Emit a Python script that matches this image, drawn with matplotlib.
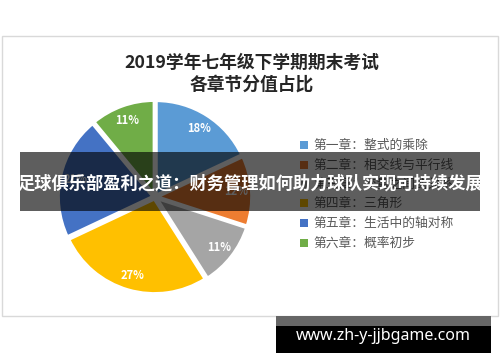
import matplotlib
matplotlib.use('Agg')
import matplotlib.pyplot as plt
from matplotlib.patches import Rectangle

plt.rcParams['font.family'] = ['Noto Sans CJK SC', 'DejaVu Sans']

# 数据
chapters = ['第一章：整式的乘除', '第二章：相交线与平行线', '第三章：变量之间的关系',
            '第四章：三角形', '第五章：生活中的轴对称', '第六章：概率初步']
shares = [18, 12, 11, 27, 21, 11]
colors = ['#5B9BD5', '#ED7D31', '#A5A5A5', '#FFC000', '#4472C4', '#70AD47']
title_lines = ['2019学年七年级下学期期末考试', '各章节分值占比']
banner_text = '足球俱乐部盈利之道：财务管理如何助力球队实现可持续发展'
watermark = 'www.zh-y-jjbgame.com'

W, H = 500, 362
fig = plt.figure(figsize=(W / 100, H / 100), dpi=100)


def fx(px):
    return px / W


def fy(py):
    return 1 - py / H


# 图表外框
fig.patches.append(Rectangle((fx(2), fy(316)), fx(496), 280 / H, transform=fig.transFigure,
                             facecolor='none', edgecolor='#d9d9d9', linewidth=1, zorder=-1))

# 标题
fig.text(fx(252), fy(63), title_lines[0], ha='center', va='center',
         fontsize=12.8, fontweight='bold', color='#262626')
fig.text(fx(252), fy(85), title_lines[1], ha='center', va='center',
         fontsize=12.8, fontweight='bold', color='#262626')

# 饼图
cx, cy, r = 155, 197, 95
ax = fig.add_axes([fx(cx - r), fy(cy + r), 2 * r / W, 2 * r / H])
wedges, _, autotexts = ax.pie(shares, colors=colors, startangle=90, counterclock=False,
                              autopct='%d%%', pctdistance=0.84, explode=[0.02] * 6,
                              wedgeprops=dict(edgecolor='white', linewidth=2.5),
                              textprops=dict(color='white', fontsize=8, fontweight='bold'))
ax.set_xlim(-1, 1)
ax.set_ylim(-1, 1)
for w in wedges:
    w.set_clip_on(False)

# 图例
row_y = [145, 165, 184, 203, 223, 243]
for name, c, y in zip(chapters, colors, row_y):
    fig.patches.append(Rectangle((fx(300), fy(y + 4)), fx(8), 8 / H, transform=fig.transFigure,
                                 facecolor=c, edgecolor='none'))
    fig.text(fx(313), fy(y), name, ha='left', va='center', fontsize=9.2, color='#595959')

# 横幅
fig.patches.append(Rectangle((fx(20), fy(211)), fx(460), 59 / H, transform=fig.transFigure,
                             facecolor='black', alpha=0.63, edgecolor='none', zorder=5))
fig.text(fx(250), fy(184), banner_text, ha='center', va='center', fontsize=12.4,
         fontweight='bold', color='white', zorder=6)

# 水印
fig.patches.append(Rectangle((fx(276), fy(326)), fx(215), 10 / H, transform=fig.transFigure,
                             facecolor='#666666', edgecolor='none'))
fig.patches.append(Rectangle((fx(276), fy(353)), fx(215), 27 / H, transform=fig.transFigure,
                             facecolor='black', edgecolor='none'))
fig.text(fx(383), fy(336), watermark, ha='center', va='center', fontsize=11.5,
         fontweight='bold', color='white', family=['Noto Sans', 'DejaVu Sans'])

fig.savefig('out.png', dpi=100)
